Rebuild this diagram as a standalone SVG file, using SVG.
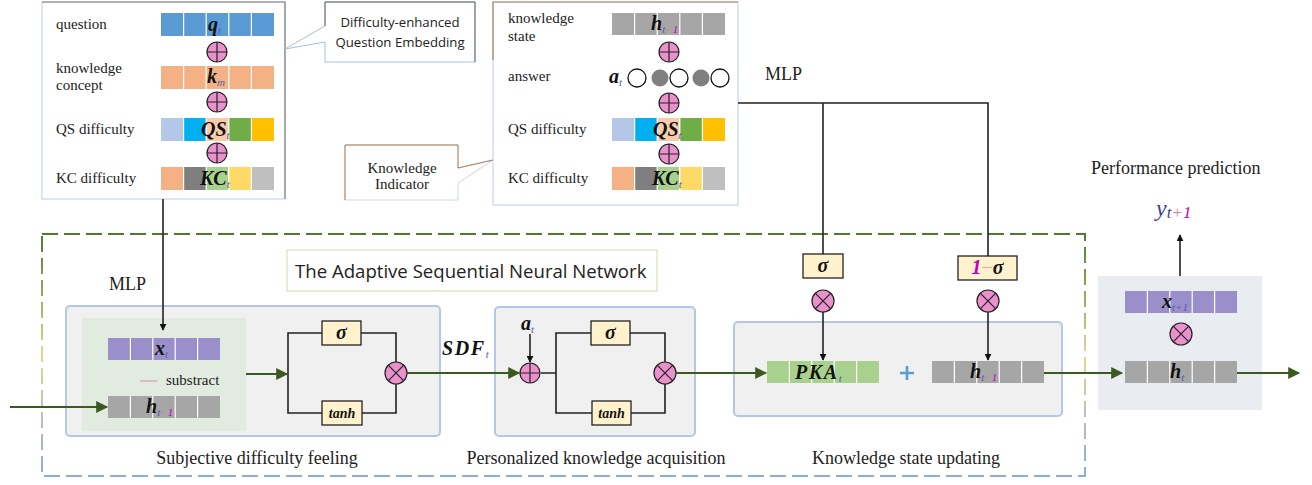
<svg xmlns="http://www.w3.org/2000/svg" xmlns:xlink="http://www.w3.org/1999/xlink" width="1312" height="485" viewBox="0 0 1312 485">
<style>
.lbl{font-family:'Liberation Serif','Times New Roman','DejaVu Serif',serif;font-size:15px;fill:#222}
.cap{font-family:'Liberation Serif','Times New Roman','DejaVu Serif',serif;font-size:18px;fill:#222}
.sans{font-family:'Open Sans','Liberation Sans',sans-serif;fill:#222}
.m{font-family:'Liberation Serif','Times New Roman','DejaVu Serif',serif;font-weight:bold;font-style:italic;font-size:20px;fill:#111}
.big{font-size:20px;letter-spacing:1.6px}
.tanh{font-size:14px}
.s{font-size:11px;font-weight:normal;fill:#5B5BA8;letter-spacing:0}
.sm{font-size:11px;font-weight:normal;fill:#E07A9A}
.s1{font-size:11px;font-weight:normal;fill:#C000C0}
.sep{stroke:#fff;stroke-width:1.2}
.blk{stroke:#222;stroke-width:1.6;fill:none}
.grn{stroke:#3B5A1E;stroke-width:2;fill:none}
.gate{fill:#FFF2CC;stroke:#222;stroke-width:1.3}
.panel{fill:#F0F0F0;stroke:#B4C7E7;stroke-width:2}
</style>
<defs>
<marker id="ab" viewBox="0 0 10 10" refX="9" refY="5" markerWidth="7" markerHeight="7" orient="auto" markerUnits="userSpaceOnUse"><path d="M0,0 L10,5 L0,10 z" fill="#111"/></marker>
<marker id="ag" viewBox="0 0 10 10" refX="9" refY="5" markerWidth="13" markerHeight="12" orient="auto" markerUnits="userSpaceOnUse"><path d="M0,0 L10,5 L0,10 z" fill="#3B5A1E"/></marker>
<g id="oplus"><circle r="10" fill="#EA90CC" stroke="#222" stroke-width="1.2"/><path d="M-10,0H10M0,-10V10" stroke="#222" stroke-width="1.2"/></g>
<g id="otimes"><circle r="11" fill="#EA90CC" stroke="#222" stroke-width="1.2"/><path d="M-7.8,-7.8L7.8,7.8M-7.8,7.8L7.8,-7.8" stroke="#222" stroke-width="1.2"/></g>
<linearGradient id="dg" gradientUnits="userSpaceOnUse" x1="0" y1="233" x2="0" y2="476"><stop offset="0" stop-color="#4E7A2A"/><stop offset="0.5" stop-color="#E6D695"/><stop offset="1" stop-color="#8FAADC"/></linearGradient>
</defs>

<!-- outer dashed frame -->
<rect x="42" y="234" width="1043" height="242" fill="none" stroke="url(#dg)" stroke-width="2" stroke-dasharray="16 6"/>

<g id="embedding">
<rect x="42" y="2" width="243" height="197" fill="#fff" stroke="#C9D6EA" stroke-width="1.2"/>
<path d="M42,2H285V199" fill="none" stroke="#808080" stroke-width="1.2"/>
<text class="lbl" x="56" y="29">question</text>
<text class="lbl" x="56" y="73">knowledge</text>
<text class="lbl" x="56" y="90">concept</text>
<text class="lbl" x="56" y="134">QS difficulty</text>
<text class="lbl" x="56" y="183">KC difficulty</text>
<rect x="161" y="13" width="113" height="23" fill="#5B9BD5"/>
<path class="sep" d="M183.6,13V36M206.2,13V36M228.8,13V36M251.4,13V36"/>
<text class="m" x="208" y="31">q<tspan class="s" dy="3">t</tspan></text>
<use href="#oplus" x="217" y="52"/>
<rect x="161" y="66" width="113" height="23" fill="#F4B183"/>
<path class="sep" d="M183.6,66V89M206.2,66V89M228.8,66V89M251.4,66V89"/>
<text class="m" x="207" y="83">k<tspan class="s" dy="3">m</tspan></text>
<use href="#oplus" x="217" y="102"/>
<rect x="161" y="118" width="22.6" height="23" fill="#B4C7E7"/>
<rect x="183.6" y="118" width="22.6" height="23" fill="#00B0F0"/>
<rect x="206.2" y="118" width="22.6" height="23" fill="#F8CBAD"/>
<rect x="228.8" y="118" width="22.6" height="23" fill="#70AD47"/>
<rect x="251.4" y="118" width="22.6" height="23" fill="#FFC000"/>
<path class="sep" d="M183.6,118V141M206.2,118V141M228.8,118V141M251.4,118V141"/>
<text class="m" x="201" y="136">QS<tspan class="s" dy="3">t</tspan></text>
<use href="#oplus" x="217" y="153"/>
<rect x="161" y="167" width="22.6" height="23" fill="#F4B183"/>
<rect x="183.6" y="167" width="22.6" height="23" fill="#7F7F7F"/>
<rect x="206.2" y="167" width="22.6" height="23" fill="#A9D18E"/>
<rect x="228.8" y="167" width="22.6" height="23" fill="#FFD966"/>
<rect x="251.4" y="167" width="22.6" height="23" fill="#BFBFBF"/>
<path class="sep" d="M183.6,167V190M206.2,167V190M228.8,167V190M251.4,167V190"/>
<text class="m" x="200" y="185">KC<tspan class="s" dy="3">t</tspan></text>
</g>

<g id="callout-embedding">
<path d="M325,2H475V62H325V42L285,49L325,26Z" fill="#fff" stroke="#A9C0D8" stroke-width="1"/>
<path d="M325,26V2H475V62" fill="none" stroke="#666" stroke-width="1"/>
<text class="sans" x="400" y="27" font-size="13.2" text-anchor="middle">Difficulty-enhanced</text>
<text class="sans" x="400" y="47" font-size="13.2" text-anchor="middle">Question Embedding</text>
</g>

<g id="indicator">
<rect x="493" y="2" width="245" height="203" fill="#fff" stroke="#C9D6EA" stroke-width="1.2"/>
<path d="M493,60V2H738" fill="none" stroke="#B0805A" stroke-width="1.2"/>
<text class="lbl" x="508" y="23">knowledge</text>
<text class="lbl" x="508" y="41">state</text>
<text class="lbl" x="508" y="81">answer</text>
<text class="lbl" x="508" y="134">QS difficulty</text>
<text class="lbl" x="508" y="183">KC difficulty</text>
<rect x="612" y="13" width="113" height="22" fill="#A6A6A6"/>
<path class="sep" d="M634.6,13V35M657.2,13V35M679.8,13V35M702.4,13V35"/>
<text class="m" x="651" y="30">h<tspan class="s" dy="3">t</tspan><tspan class="sm">−</tspan><tspan class="s1">1</tspan></text>
<use href="#oplus" x="669" y="52"/>
<text class="m" x="609" y="83">a<tspan class="s" dy="3">t</tspan></text>
<circle cx="637" cy="78" r="9" fill="#fff" stroke="#111" stroke-width="1.3"/>
<circle cx="660" cy="78" r="8.5" fill="#808080"/>
<circle cx="679" cy="78" r="9" fill="#fff" stroke="#111" stroke-width="1.3"/>
<circle cx="701" cy="78" r="8.5" fill="#808080"/>
<circle cx="720" cy="78" r="9" fill="#fff" stroke="#111" stroke-width="1.3"/>
<use href="#oplus" x="669" y="103"/>
<rect x="612" y="118" width="22.6" height="23" fill="#B4C7E7"/>
<rect x="634.6" y="118" width="22.6" height="23" fill="#00B0F0"/>
<rect x="657.2" y="118" width="22.6" height="23" fill="#F8CBAD"/>
<rect x="679.8" y="118" width="22.6" height="23" fill="#70AD47"/>
<rect x="702.4" y="118" width="22.6" height="23" fill="#FFC000"/>
<path class="sep" d="M634.6,118V141M657.2,118V141M679.8,118V141M702.4,118V141"/>
<text class="m" x="653" y="136">QS<tspan class="s" dy="3">t</tspan></text>
<use href="#oplus" x="669" y="154"/>
<rect x="612" y="167" width="22.6" height="23" fill="#F4B183"/>
<rect x="634.6" y="167" width="22.6" height="23" fill="#7F7F7F"/>
<rect x="657.2" y="167" width="22.6" height="23" fill="#A9D18E"/>
<rect x="679.8" y="167" width="22.6" height="23" fill="#FFD966"/>
<rect x="702.4" y="167" width="22.6" height="23" fill="#BFBFBF"/>
<path class="sep" d="M634.6,167V190M657.2,167V190M679.8,167V190M702.4,167V190"/>
<text class="m" x="652" y="185">KC<tspan class="s" dy="3">t</tspan></text>
</g>

<g id="callout-indicator">
<path d="M345,145H458V168L493,160L458,183V200H345Z" fill="#fff" stroke="#C9D6EA" stroke-width="1"/>
<path d="M345,200V145H458V168L493,160" fill="none" stroke="#B0805A" stroke-width="1"/>
<text class="lbl" x="402" y="173" text-anchor="middle">Knowledge</text>
<text class="lbl" x="402" y="189" text-anchor="middle">Indicator</text>
</g>

<g id="title">
<rect x="287" y="250" width="370" height="41" fill="#fff" stroke="#D2E2BC" stroke-width="1.2"/>
<text class="sans" x="295" y="278" font-size="18.6">The Adaptive Sequential Neural Network</text>
</g>

<g id="sdf-panel">
<rect class="panel" x="66" y="306" width="374" height="130" rx="4"/>
<rect x="82" y="318" width="164" height="113" fill="#E2EBDF"/>
<text class="cap" x="109" y="290">MLP</text>
<rect x="108" y="338" width="112" height="22" fill="#9A8FCB"/>
<path class="sep" d="M130.4,338V360M152.8,338V360M175.2,338V360M197.6,338V360"/>
<text class="m" x="155" y="355">x<tspan class="s" dy="3">t</tspan></text>
<line x1="140" y1="381" x2="157" y2="381" stroke="#D8A0B0" stroke-width="1.2"/>
<text class="lbl" x="166" y="385">substract</text>
<rect x="108" y="396" width="112" height="22" fill="#A6A6A6"/>
<path class="sep" d="M130.4,396V418M152.8,396V418M175.2,396V418M197.6,396V418"/>
<text class="m" x="146" y="413">h<tspan class="s" dy="3">t</tspan><tspan class="sm">−</tspan><tspan class="s1">1</tspan></text>
<path class="blk" d="M322,333H288V413H322M361,333H396V362M362,413H396V384"/>
<rect class="gate" x="322" y="321" width="39" height="24"/>
<text class="m" x="341.5" y="339" text-anchor="middle">σ</text>
<rect class="gate" x="322" y="401" width="40" height="24"/>
<text class="m tanh" x="342" y="418" text-anchor="middle">tanh</text>
<use href="#otimes" x="396" y="373"/>
<text class="cap" x="257" y="464" text-anchor="middle">Subjective difficulty feeling</text>
</g>

<g id="pka-panel">
<rect class="panel" x="495" y="307" width="200" height="129" rx="4"/>
<path class="blk" d="M541,373H556M591,333H556V413H592M630,333H665V362M631,413H665V384"/>
<rect class="gate" x="591" y="321" width="39" height="24"/>
<text class="m" x="610.5" y="339" text-anchor="middle">σ</text>
<rect class="gate" x="592" y="401" width="39" height="24"/>
<text class="m tanh" x="611.5" y="418" text-anchor="middle">tanh</text>
<use href="#oplus" x="530" y="373"/>
<use href="#otimes" x="665" y="373"/>
<text class="m" x="521" y="330">a<tspan class="s" dy="3">t</tspan></text>
<text class="m big" x="442" y="355">SDF<tspan class="s" dy="3">t</tspan></text>
<text class="cap" x="596" y="464" text-anchor="middle">Personalized knowledge acquisition</text>
</g>

<g id="update-panel">
<rect class="panel" x="734" y="322" width="328" height="94" rx="4"/>
<rect x="767" y="361" width="112" height="22" fill="#A9D18E"/>
<path class="sep" d="M789.4,361V383M811.8,361V383M834.2,361V383M856.6,361V383"/>
<text class="m big" x="795" y="379">PKA<tspan class="s" dy="3">t</tspan></text>
<path d="M907,366V380M900,373H914" stroke="#5B9BD5" stroke-width="2.6"/>
<rect x="932" y="361" width="112" height="22" fill="#A6A6A6"/>
<path class="sep" d="M954.4,361V383M976.8,361V383M999.2,361V383M1021.6,361V383"/>
<text class="m" x="970" y="378">h<tspan class="s" dy="3">t</tspan><tspan class="sm">−</tspan><tspan class="s1">1</tspan></text>
<rect class="gate" x="803" y="254" width="40" height="24"/>
<text class="m" x="823" y="272" text-anchor="middle">σ</text>
<rect class="gate" x="958" y="256" width="59" height="24"/>
<text class="m" x="987.5" y="274" text-anchor="middle"><tspan fill="#C000C0">1</tspan><tspan fill="#F0A0A0" font-weight="normal" font-style="normal">−</tspan>σ</text>
<use href="#otimes" x="823" y="301"/>
<use href="#otimes" x="988" y="301"/>
<text class="cap" x="765" y="80">MLP</text>
<text class="cap" x="906" y="464" text-anchor="middle">Knowledge state updating</text>
</g>

<g id="prediction">
<rect x="1098" y="276" width="164" height="134" fill="#E9ECF0"/>
<rect x="1125" y="291" width="112" height="22" fill="#9A8FCB"/>
<path class="sep" d="M1147.4,291V313M1169.8,291V313M1192.2,291V313M1214.6,291V313"/>
<text class="m" x="1162" y="308">x<tspan class="s" dy="3">t</tspan><tspan class="s">+1</tspan></text>
<use href="#otimes" x="1181" y="334"/>
<rect x="1125" y="361" width="112" height="22" fill="#A6A6A6"/>
<path class="sep" d="M1147.4,361V383M1169.8,361V383M1192.2,361V383M1214.6,361V383"/>
<text class="m" x="1170" y="378">h<tspan class="s" dy="3">t</tspan></text>
<text class="cap" x="1091" y="174">Performance prediction</text>
<text x="1156" y="216" font-family="'Liberation Serif','Times New Roman','DejaVu Serif',serif" font-style="italic" font-size="24" fill="#3F3F8F">y<tspan font-size="17" dy="2">t</tspan><tspan font-size="17" fill="#E07A9A">+</tspan><tspan font-size="17" fill="#C000C0">1</tspan></text>
</g>

<g id="connectors">
<line class="blk" x1="163" y1="199" x2="163" y2="330" marker-end="url(#ab)"/>
<path class="blk" d="M738,103H988V256M823,103V254"/>
<line class="blk" x1="823" y1="312" x2="823" y2="360" marker-end="url(#ab)"/>
<line class="blk" x1="988" y1="312" x2="988" y2="360" marker-end="url(#ab)"/>
<line class="blk" x1="530" y1="334" x2="530" y2="362" marker-end="url(#ab)"/>
<line class="blk" x1="1180" y1="276" x2="1180" y2="235" marker-end="url(#ab)"/>
<line class="grn" x1="10" y1="407" x2="107" y2="407" marker-end="url(#ag)"/>
<line class="grn" x1="246" y1="374" x2="287" y2="374" marker-end="url(#ag)"/>
<line class="grn" x1="407" y1="373" x2="519" y2="373" marker-end="url(#ag)"/>
<line class="grn" x1="676" y1="373" x2="766" y2="373" marker-end="url(#ag)"/>
<line class="grn" x1="1044" y1="373" x2="1122" y2="373" marker-end="url(#ag)"/>
<line class="grn" x1="1237" y1="373" x2="1299" y2="373" marker-end="url(#ag)"/>
</g>
</svg>
